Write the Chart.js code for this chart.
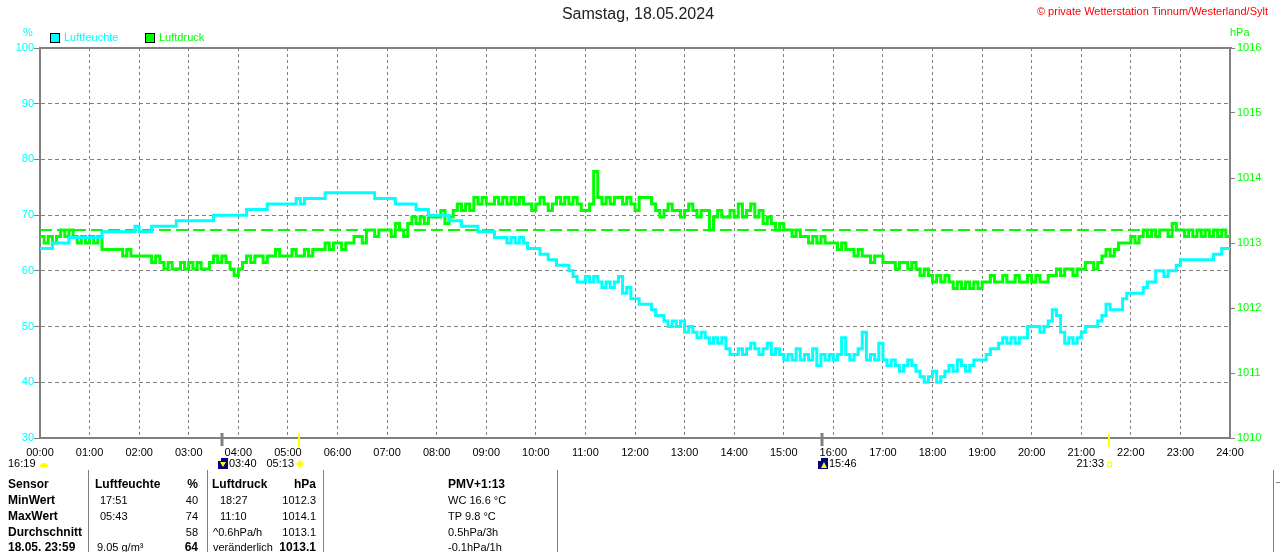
<!DOCTYPE html>
<html>
<head>
<meta charset="utf-8">
<title>Luftfeuchte / Luftdruck 18.05.2024</title>
<script src="https://cdn.jsdelivr.net/npm/chart.js@4.4.1/dist/chart.umd.min.js"></script>
<style>
html, body { margin: 0; padding: 0; background: #fff; }
#wrap { width: 1280px; height: 552px; }
</style>
</head>
<body>
<div id="wrap"><canvas id="chart" width="1280" height="552"></canvas></div>
<script>
const titleText = 'Samstag, 18.05.2024';
const copyright = '\u00a9 private Wetterstation Tinnum/Westerland/Sylt';
const seriesNames = ['Luftfeuchte', 'Luftdruck'];

const hourLabels = ['00:00', '01:00', '02:00', '03:00', '04:00', '05:00', '06:00', '07:00', '08:00',
    '09:00', '10:00', '11:00', '12:00', '13:00', '14:00', '15:00', '16:00', '17:00', '18:00',
    '19:00', '20:00', '21:00', '22:00', '23:00', '24:00'];

const sampleStep = 5; // minutes between readings

// Luftfeuchte in %, one row per hour (12 readings), last value = 24:00
const humidity = [
    64, 64, 64, 65, 65, 65, 65, 66, 66, 66, 66, 66,
    66, 66, 66, 67, 67, 67, 67, 67, 67, 67, 67, 68,
    67, 67, 67, 68, 68, 68, 68, 68, 68, 69, 69, 69,
    69, 69, 69, 69, 69, 69, 70, 70, 70, 70, 70, 70,
    70, 70, 71, 71, 71, 71, 71, 72, 72, 72, 72, 72,
    72, 72, 73, 72, 73, 73, 73, 73, 73, 74, 74, 74,
    74, 74, 74, 74, 74, 74, 74, 74, 74, 73, 73, 73,
    73, 73, 72, 72, 72, 72, 72, 71, 71, 71, 70, 70,
    70, 70, 70, 69, 69, 69, 68, 68, 68, 68, 67, 67,
    67, 67, 66, 66, 66, 65, 66, 65, 66, 65, 64, 64,
    64, 63, 63, 62, 62, 61, 61, 61, 60, 59, 58, 58,
    59, 58, 59, 58, 57, 58, 57, 58, 59, 56, 57, 55,
    55, 54, 54, 54, 53, 52, 52, 51, 50, 51, 50, 51,
    49, 50, 49, 48, 49, 48, 47, 48, 47, 48, 46, 45,
    45, 46, 45, 46, 47, 46, 45, 46, 47, 45, 46, 45,
    44, 45, 44, 46, 44, 45, 44, 46, 43, 45, 44, 45,
    44, 45, 48, 45, 44, 45, 46, 49, 44, 45, 44, 47,
    44, 43, 44, 43, 42, 43, 44, 43, 42, 41, 40, 41,
    42, 40, 41, 42, 43, 42, 44, 43, 42, 43, 44, 44,
    44, 45, 46, 46, 47, 48, 47, 48, 47, 48, 48, 50,
    50, 50, 49, 50, 51, 53, 52, 49, 47, 48, 47, 48,
    49, 50, 50, 50, 51, 52, 54, 53, 53, 53, 55, 56,
    56, 56, 56, 57, 58, 58, 60, 60, 59, 60, 60, 61,
    62, 62, 62, 62, 62, 62, 62, 62, 63, 63, 64, 64,
    64
];

// Luftdruck in hPa, same sampling
const pressure = [
    1013.1, 1013.0, 1013.1, 1013.0, 1013.1, 1013.2, 1013.1, 1013.2, 1013.1, 1013.0, 1013.1, 1013.0,
    1013.1, 1013.0, 1013.1, 1012.9, 1012.9, 1012.9, 1012.9, 1012.9, 1012.8, 1012.9, 1012.8, 1012.8,
    1012.8, 1012.8, 1012.8, 1012.7, 1012.8, 1012.7, 1012.6, 1012.7, 1012.6, 1012.6, 1012.7, 1012.6,
    1012.7, 1012.6, 1012.7, 1012.6, 1012.6, 1012.7, 1012.8, 1012.7, 1012.8, 1012.7, 1012.6, 1012.5,
    1012.6, 1012.7, 1012.8, 1012.7, 1012.8, 1012.8, 1012.7, 1012.8, 1012.8, 1012.9, 1012.8, 1012.8,
    1012.8, 1012.9, 1012.8, 1012.8, 1012.9, 1012.8, 1012.9, 1012.9, 1012.9, 1013.0, 1012.9, 1013.0,
    1013.0, 1012.9, 1013.0, 1013.0, 1013.1, 1013.1, 1013.0, 1013.2, 1013.2, 1013.1, 1013.2, 1013.2,
    1013.2, 1013.1, 1013.3, 1013.2, 1013.1, 1013.3, 1013.4, 1013.3, 1013.4, 1013.3, 1013.4, 1013.4,
    1013.4, 1013.5, 1013.3, 1013.4, 1013.5, 1013.6, 1013.5, 1013.6, 1013.5, 1013.7, 1013.6, 1013.7,
    1013.6, 1013.6, 1013.7, 1013.6, 1013.7, 1013.6, 1013.7, 1013.6, 1013.7, 1013.6, 1013.6, 1013.5,
    1013.6, 1013.7, 1013.6, 1013.5, 1013.6, 1013.7, 1013.6, 1013.7, 1013.6, 1013.7, 1013.6, 1013.5,
    1013.5, 1013.6, 1014.1, 1013.7, 1013.6, 1013.7, 1013.6, 1013.7, 1013.7, 1013.6, 1013.7, 1013.6,
    1013.5, 1013.7, 1013.7, 1013.7, 1013.6, 1013.5, 1013.4, 1013.5, 1013.6, 1013.5, 1013.5, 1013.4,
    1013.5, 1013.6, 1013.5, 1013.4, 1013.5, 1013.5, 1013.2, 1013.4, 1013.5, 1013.4, 1013.4, 1013.5,
    1013.4, 1013.6, 1013.4, 1013.5, 1013.6, 1013.4, 1013.5, 1013.3, 1013.4, 1013.3, 1013.2, 1013.3,
    1013.2, 1013.2, 1013.1, 1013.2, 1013.1, 1013.1, 1013.0, 1013.1, 1013.0, 1013.1, 1013.0, 1013.0,
    1013.0, 1012.9, 1013.0, 1012.9, 1012.9, 1012.8, 1012.9, 1012.8, 1012.8, 1012.7, 1012.8, 1012.8,
    1012.7, 1012.7, 1012.7, 1012.6, 1012.7, 1012.7, 1012.6, 1012.7, 1012.6, 1012.5, 1012.6, 1012.5,
    1012.4, 1012.5, 1012.4, 1012.5, 1012.4, 1012.3, 1012.4, 1012.3, 1012.4, 1012.3, 1012.4, 1012.3,
    1012.4, 1012.4, 1012.5, 1012.4, 1012.4, 1012.5, 1012.4, 1012.4, 1012.5, 1012.4, 1012.4, 1012.5,
    1012.4, 1012.5, 1012.4, 1012.4, 1012.5, 1012.5, 1012.6, 1012.5, 1012.6, 1012.6, 1012.5, 1012.6,
    1012.6, 1012.7, 1012.7, 1012.6, 1012.7, 1012.8, 1012.9, 1012.8, 1012.9, 1013.0, 1013.0, 1013.0,
    1013.1, 1013.0, 1013.1, 1013.2, 1013.1, 1013.2, 1013.1, 1013.2, 1013.2, 1013.1, 1013.3, 1013.2,
    1013.2, 1013.1, 1013.2, 1013.1, 1013.2, 1013.1, 1013.2, 1013.1, 1013.2, 1013.1, 1013.2, 1013.1,
    1013.1
];

const pressureAvg = 1013.2;

const moonTimes = ['03:40', '15:46'];
const sunTimes = ['05:13', '21:33'];
const moonLeftLabel = '16:19';

const tableRows = [
    ['Sensor', 'Luftfeuchte', '%', 'Luftdruck', 'hPa', 'PMV+1:13'],
    ['MinWert', '17:51', '40', '18:27', '1012.3', 'WC 16.6 \u00b0C'],
    ['MaxWert', '05:43', '74', '11:10', '1014.1', 'TP 9.8 \u00b0C'],
    ['Durchschnitt', '', '58', '^0.6hPa/h', '1013.1', '0.5hPa/3h'],
    ['18.05. 23:59', '9.05 g/m\u00b3', '64', 'ver\u00e4nderlich', '1013.1', '-0.1hPa/1h']
];

const CYAN = '#00FFFF';
const GREEN = '#00FF00';
const GRAY = '#808080';
const FONT = '"Liberation Sans", Arial, sans-serif';

function toMinutes(s) {
    const p = s.split(':');
    return Number(p[0]) * 60 + Number(p[1]);
}

function series(values) {
    return values.map((v, i) => ({ x: i * sampleStep, y: v }));
}

const overlay = {
    id: 'overlay',
    afterDraw(chart) {
        const ctx = chart.ctx;
        const area = chart.chartArea;
        const xs = chart.scales.x;
        ctx.save();

        // top frame
        ctx.strokeStyle = GRAY;
        ctx.lineWidth = 2;
        ctx.beginPath();
        ctx.moveTo(area.left - 1, area.top);
        ctx.lineTo(area.right + 2, area.top);
        ctx.stroke();

        ctx.textBaseline = 'middle';
        ctx.font = '16px ' + FONT;
        ctx.fillStyle = '#222';
        ctx.textAlign = 'center';
        ctx.fillText(titleText, 638, 15);

        ctx.font = '11px ' + FONT;
        ctx.fillStyle = '#FF0000';
        ctx.textAlign = 'right';
        ctx.fillText(copyright, 1268, 12);

        // axis units
        ctx.textAlign = 'left';
        ctx.fillStyle = CYAN;
        ctx.fillText('%', 23, 33);
        ctx.fillStyle = GREEN;
        ctx.fillText('hPa', 1230, 33);

        // legend
        const legendX = [50, 145];
        chart.data.datasets.slice(0, 2).forEach((ds, i) => {
            ctx.fillStyle = ds.borderColor;
            ctx.fillRect(legendX[i], 33, 9, 9);
            ctx.strokeStyle = '#000';
            ctx.lineWidth = 1;
            ctx.strokeRect(legendX[i] + 0.5, 33.5, 9, 9);
            ctx.fillText(ds.label, legendX[i] + 14, 38);
        });

        // moon / sun markers below the time axis
        const y0 = area.bottom;
        moonTimes.forEach((t, i) => {
            const m = Math.round(xs.getPixelForValue(toMinutes(t)));
            ctx.strokeStyle = GRAY;
            ctx.lineWidth = 3;
            ctx.beginPath();
            ctx.moveTo(m, y0 - 5);
            ctx.lineTo(m, y0 + 8);
            ctx.stroke();
            ctx.fillStyle = '#000080';
            ctx.fillRect(m - 4, 458, 10, 11);
            ctx.fillStyle = '#FFFF00';
            ctx.beginPath();
            if (i === 0) {
                ctx.moveTo(m - 2, 462); ctx.lineTo(m + 4, 462); ctx.lineTo(m + 1, 467);
            } else {
                ctx.moveTo(m - 1, 468); ctx.lineTo(m + 5, 468); ctx.lineTo(m + 2, 462);
            }
            ctx.fill();
            ctx.fillStyle = '#fff';
            ctx.fillRect(m - 4, 458, 3, 3);
            ctx.fillStyle = '#000';
            ctx.font = '11px ' + FONT;
            ctx.textAlign = 'left';
            ctx.fillText(t, m + 7, 464);
        });
        sunTimes.forEach((t, i) => {
            const m = Math.round(xs.getPixelForValue(toMinutes(t)));
            ctx.strokeStyle = '#FFFF00';
            ctx.lineWidth = 2;
            ctx.beginPath();
            ctx.moveTo(m, y0 - 4);
            ctx.lineTo(m, y0 + 9);
            ctx.stroke();
            if (i === 0) {
                ctx.strokeStyle = '#FFF080';
                ctx.lineWidth = 1;
                ctx.beginPath();
                ctx.moveTo(m - 4, 464); ctx.lineTo(m + 6, 464);
                ctx.moveTo(m + 1, 459); ctx.lineTo(m + 1, 469);
                ctx.stroke();
                ctx.fillStyle = '#FFFF00';
                ctx.beginPath();
                ctx.arc(m + 1, 464, 3, 0, Math.PI * 2);
                ctx.fill();
            } else {
                ctx.strokeStyle = '#FFFF00';
                ctx.lineWidth = 1;
                ctx.strokeRect(m - 1.5, 462.5, 4, 4);
            }
            ctx.fillStyle = '#000';
            ctx.textAlign = 'right';
            ctx.fillText(t, m - 5, 464);
        });
        ctx.textAlign = 'left';
        ctx.fillText(moonLeftLabel, 8, 464);
        ctx.fillStyle = '#FFFF00';
        ctx.beginPath();
        ctx.arc(44, 467, 4, Math.PI, 0);
        ctx.fill();

        // data table
        ctx.strokeStyle = GRAY;
        ctx.lineWidth = 1;
        [88, 207, 323, 557, 1273].forEach(x => {
            ctx.beginPath();
            ctx.moveTo(x + 0.5, 470);
            ctx.lineTo(x + 0.5, 552);
            ctx.stroke();
        });
        ctx.beginPath();
        ctx.moveTo(1276, 482.5);
        ctx.lineTo(1280, 482.5);
        ctx.stroke();

        const colX = [8, 100, 198, 220, 316, 448];
        const colAlign = ['left', 'left', 'right', 'left', 'right', 'left'];
        const rowY = [485, 501, 517, 533, 548];
        tableRows.forEach((row, r) => {
            row.forEach((txt, c) => {
                let x = colX[c];
                if (r === 0 && c === 1) x = 95;
                if (r === 0 && c === 3) x = 212;
                if (r > 2 && c === 3) x = 213;
                if (r === 4 && c === 1) x = 97;
                const bold = r === 0 || c === 0 || (r === 4 && (c === 2 || c === 4));
                ctx.font = bold ? 'bold 12px ' + FONT : '11px ' + FONT;
                ctx.fillStyle = '#000';
                ctx.textAlign = colAlign[c];
                ctx.fillText(txt, x, rowY[r]);
            });
        });
        ctx.restore();
    }
};

Chart.defaults.font.family = FONT;
Chart.defaults.font.size = 11;

const config = {
    type: 'line',
    data: {
        datasets: [{
            label: seriesNames[0],
            data: series(humidity),
            yAxisID: 'yH',
            borderColor: CYAN,
            backgroundColor: CYAN,
            borderWidth: 3,
            pointRadius: 0,
            stepped: true
        }, {
            label: seriesNames[1],
            data: series(pressure),
            yAxisID: 'yP',
            borderColor: GREEN,
            backgroundColor: GREEN,
            borderWidth: 3,
            pointRadius: 0,
            stepped: true
        }, {
            label: 'Durchschnitt',
            data: [{ x: 0, y: pressureAvg }, { x: 1440, y: pressureAvg }],
            yAxisID: 'yP',
            borderColor: GREEN,
            borderWidth: 2,
            borderDash: [12, 5],
            pointRadius: 0
        }]
    },
    options: {
        responsive: false,
        animation: false,
        devicePixelRatio: 1,
        layout: { padding: { top: 48, left: 0, right: 0, bottom: 0 } },
        plugins: {
            legend: { display: false },
            tooltip: { enabled: false }
        },
        scales: {
            x: {
                type: 'linear',
                min: 0,
                max: 1440,
                afterFit: (s) => { s.height = 114; },
                ticks: {
                    stepSize: 60,
                    autoSkip: false,
                    maxRotation: 0,
                    padding: 8,
                    color: '#000',
                    callback: (v) => hourLabels[v / 60]
                },
                grid: { color: GRAY, drawTicks: false },
                border: { color: GRAY, width: 2, dash: [3, 3] }
            },
            yH: {
                position: 'left',
                min: 30,
                max: 100,
                afterFit: (s) => { s.width = 40; },
                ticks: { stepSize: 10, color: CYAN, padding: 0, callback: (v) => String(v) },
                grid: { color: GRAY, tickColor: GRAY, tickLength: 6, tickBorderDash: [] },
                border: { color: GRAY, width: 2, dash: [4, 3] }
            },
            yP: {
                position: 'right',
                min: 1010,
                max: 1016,
                afterFit: (s) => { s.width = 50; },
                ticks: { stepSize: 1, color: GREEN, padding: 2, callback: (v) => String(v) },
                grid: { drawOnChartArea: false, tickColor: GRAY, tickLength: 5 },
                border: { color: GRAY, width: 2 }
            }
        }
    },
    plugins: [overlay]
};

const myChart = new Chart(document.getElementById('chart'), config);
</script>
</body>
</html>
